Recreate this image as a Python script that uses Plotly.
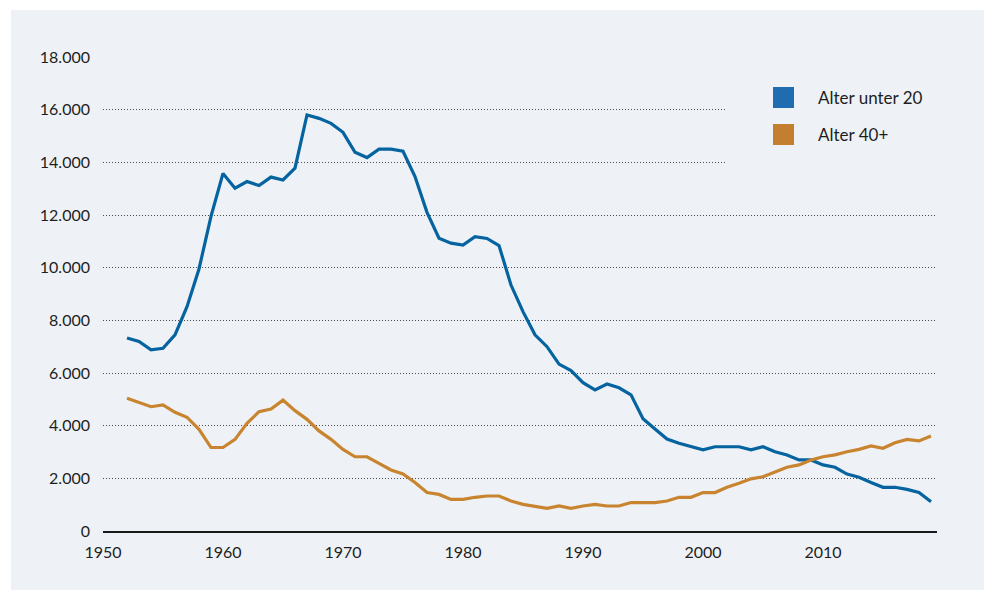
import plotly.graph_objects as go

years = list(range(1952, 2020))

under_20 = [
    7330, 7200, 6880, 6940, 7450, 8520, 9950, 11950, 13580, 13020,
    13270, 13120, 13440, 13330, 13780, 15800, 15670, 15480, 15140, 14380,
    14180, 14500, 14500, 14420, 13460, 12100, 11120, 10930, 10860, 11180,
    11110, 10840, 9340, 8330, 7450, 7000, 6340, 6090, 5630, 5360,
    5580, 5440, 5170, 4260, 3870, 3490, 3330, 3200, 3080, 3200,
    3200, 3200, 3080, 3200, 3010, 2890, 2700, 2700, 2510, 2420,
    2160, 2040, 1840, 1660, 1660, 1580, 1460, 1110,
]

over_40 = [
    5040, 4870, 4720, 4790, 4510, 4320, 3860, 3170, 3170, 3480,
    4090, 4530, 4630, 4970, 4570, 4240, 3800, 3480, 3100, 2820,
    2820, 2570, 2320, 2170, 1840, 1460, 1390, 1200, 1200, 1280,
    1330, 1330, 1140, 1010, 950, 860, 950, 860, 950, 1010,
    950, 950, 1080, 1080, 1080, 1140, 1280, 1280, 1460, 1460,
    1660, 1810, 1980, 2060, 2250, 2420, 2510, 2700, 2820, 2890,
    3010, 3100, 3230, 3140, 3350, 3480, 3420, 3610,
]

series_names = ["Alter unter 20", "Alter 40+"]
line_colors = ["#0563a0", "#c8842f"]
legend_colors = ["#1f6cb0", "#c47f2e"]

x_ticks = [1950, 1960, 1970, 1980, 1990, 2000, 2010]
y_ticks = [0, 2000, 4000, 6000, 8000, 10000, 12000, 14000, 16000, 18000]

BG = "#eef2f6"
FONT = "Lato"
TEXT = "#1e1e1e"

fig = go.Figure()
for name, vals, col in zip(series_names, [under_20, over_40], line_colors):
    fig.add_trace(go.Scatter(
        x=years, y=vals, mode="lines", name=name,
        line=dict(color=col, width=3.2), showlegend=False,
        hoverinfo="x+y+name",
    ))

# geometry (pixels)
L, R, T, B = 103, 47, 57, 59
W, H = 984, 590
pw, ph = W - L - R, H - T - B

def px_x(x):
    return (x - L) / pw

def px_y(y):
    return (H - B - y) / ph

shapes = [
    # panel background
    dict(type="rect", xref="paper", yref="paper",
         x0=px_x(11), x1=px_x(990), y0=px_y(600), y1=px_y(10),
         fillcolor=BG, line=dict(width=0), layer="below"),
    # legend area background (interrupts gridlines)
    dict(type="rect", xref="paper", yref="paper",
         x0=px_x(725), x1=px_x(960), y0=px_y(175), y1=px_y(80),
         fillcolor=BG, line=dict(width=0), layer="above"),
]
annotations = []
legend_centers = [97.5, 134.5]
for name, col, cy in zip(series_names, legend_colors, legend_centers):
    shapes.append(dict(type="rect", xref="paper", yref="paper",
                       x0=px_x(773), x1=px_x(794),
                       y0=px_y(cy + 10.5), y1=px_y(cy - 10.5),
                       fillcolor=col, line=dict(width=0), layer="above"))
    annotations.append(dict(xref="paper", yref="paper", x=px_x(816), y=px_y(cy),
                            text=name, showarrow=False, xanchor="left",
                            yanchor="middle",
                            font=dict(family=FONT, size=17, color=TEXT)))

fig.update_layout(
    width=W, height=H,
    margin=dict(l=L, r=R, t=T, b=B, pad=0),
    paper_bgcolor="white",
    plot_bgcolor="rgba(0,0,0,0)",
    separators=",.",
    font=dict(family=FONT, size=16, color=TEXT),
    showlegend=False,
    shapes=shapes,
    annotations=annotations,
    xaxis=dict(
        range=[1950, 2019.5], tickvals=x_ticks, tickformat="d",
        showgrid=False, zeroline=False,
        showline=True, linecolor="#1a1a1a", linewidth=1.5,
        ticks="", ticklabelstandoff=6,
        tickfont=dict(family=FONT, size=16, color=TEXT),
    ),
    yaxis=dict(
        range=[0, 18000], tickvals=y_ticks, tickformat=",d",
        showgrid=True, gridcolor="#4a4a4a", gridwidth=1, griddash="1px,2px",
        zeroline=False, showline=False, ticks="", ticklabelstandoff=12,
        tickfont=dict(family=FONT, size=16, color=TEXT),
    ),
)

fig.write_html("out.html",
               config={"displayModeBar": False},
               post_script="document.body.style.margin='0';document.body.style.overflow='hidden';")
